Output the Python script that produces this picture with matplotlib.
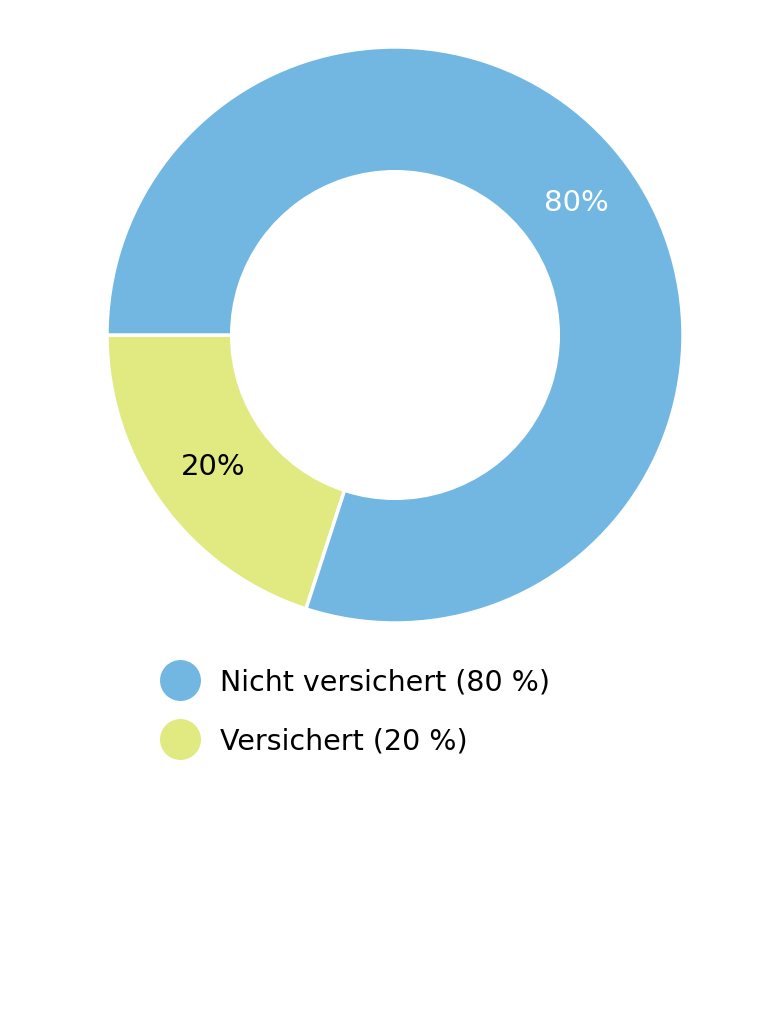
import matplotlib
matplotlib.use("Agg")
import matplotlib.pyplot as plt
from matplotlib.lines import Line2D

# Data
categories = ["Versichert", "Nicht versichert"]
values = [20, 80]
legend_labels = ["Nicht versichert (80 %)", "Versichert (20 %)"]
colors = ["#E0EA80", "#72B7E2"]
label_colors = ["black", "white"]

plt.rcParams['font.family'] = ['DejaVu Sans']

fig = plt.figure(figsize=(7.71, 10.24), dpi=100)
ax = fig.add_axes([107/771, 401/1024, 576/771, 576/1024])
wedges, texts, autotexts = ax.pie(
    values, colors=colors, startangle=180, counterclock=True,
    radius=1.0, autopct='%d%%', pctdistance=0.78,
    wedgeprops=dict(width=0.433, edgecolor='white', linewidth=2.5),
    textprops=dict(fontsize=21))
for t, c in zip(autotexts, label_colors):
    t.set_color(c)
ax.set_xlim(-1, 1)
ax.set_ylim(-1, 1)
ax.set_aspect('equal')
ax.axis('off')

handles = [Line2D([0], [0], marker='o', linestyle='none', markersize=29.5,
                  markerfacecolor=colors[1], markeredgecolor='none'),
           Line2D([0], [0], marker='o', linestyle='none', markersize=29.5,
                  markerfacecolor=colors[0], markeredgecolor='none')]
fig.legend(handles, legend_labels, loc='upper left',
           bbox_to_anchor=(163/771, 1 - 668/1024), frameon=False,
           fontsize=20.5, handlelength=1.2, handletextpad=0.8,
           labelspacing=1.1, borderpad=0, borderaxespad=0)

fig.savefig("out.png", dpi=100, facecolor='white')
